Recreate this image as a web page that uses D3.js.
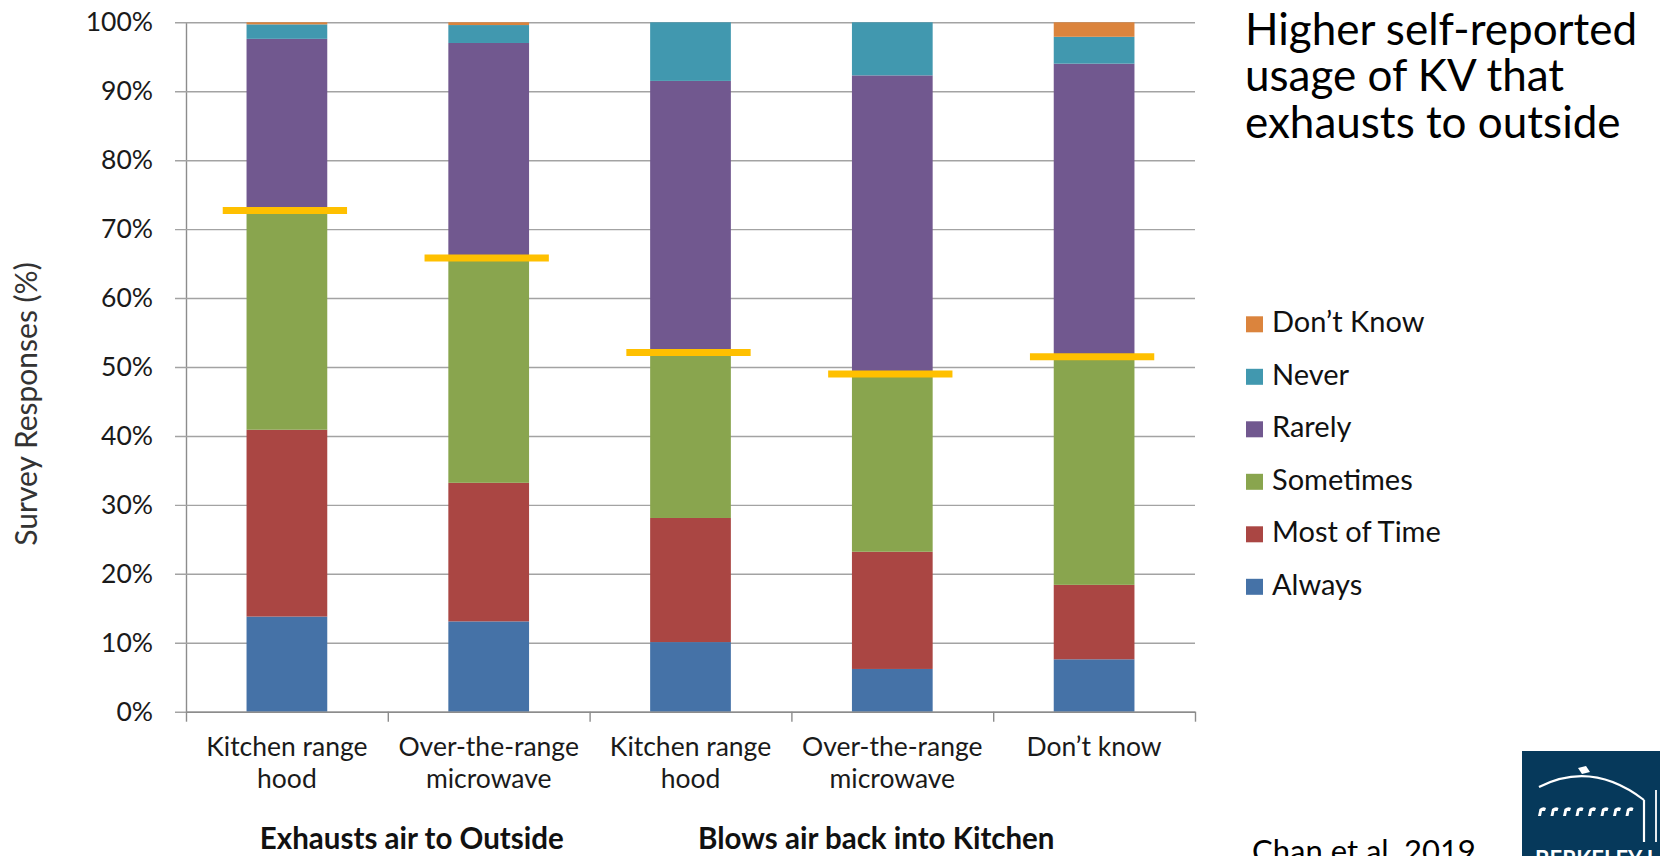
<!DOCTYPE html>
<html>
<head>
<meta charset="utf-8">
<script src="https://cdn.jsdelivr.net/npm/d3@7"></script>
<style>
  html, body { margin: 0; padding: 0; background: #fff; }
  svg { display: block; font-family: Lato, "Open Sans", sans-serif; }
</style>
</head>
<body>
<svg id="chart" width="1660" height="856"></svg>
<script>
// Kitchen ventilation usage by device type (share of survey responses, %)
const categoryLines = [
  ["Kitchen range", "hood"],
  ["Over-the-range", "microwave"],
  ["Kitchen range", "hood"],
  ["Over-the-range", "microwave"],
  ["Don\u2019t know"]
];
const responses = ["Always", "Most of Time", "Sometimes", "Rarely", "Never", "Don\u2019t Know"];
const always     = [13.8, 13.1, 10.1,  6.2,  7.6];
const mostOfTime = [27.1, 20.1, 18.0, 17.0, 10.8];
const sometimes  = [31.8, 32.6, 24.0, 25.8, 33.1];
const rarely     = [24.9, 31.2, 39.4, 43.3, 42.5];
const never      = [ 2.1,  2.6,  8.5,  7.7,  3.9];
const dontKnow   = [ 0.3,  0.4,  0.0,  0.0,  2.1];
const yTicks = [0, 10, 20, 30, 40, 50, 60, 70, 80, 90, 100];
const groupNames = ["Exhausts air to Outside", "Blows air back into Kitchen"];
const groupMembers = [[0, 1], [2, 3, 4]];
const headingLines = ["Higher self-reported", "usage of KV that", "exhausts to outside"];
const citation = "Chan et al. 2019";

const colors = {
  "Always": "#4572A7",
  "Most of Time": "#AA4643",
  "Sometimes": "#89A54E",
  "Rarely": "#71588F",
  "Never": "#4198AF",
  "Don\u2019t Know": "#DB843D"
};

// assemble rows for stacking
const seriesValues = [always, mostOfTime, sometimes, rarely, never, dontKnow];
const rows = categoryLines.map((c, i) => {
  const r = { idx: i };
  responses.forEach((k, j) => { r[k] = seriesValues[j][i]; });
  return r;
});

const svg = d3.select("#chart");
const plot = { left: 186, right: 1195, top: 22.3, bottom: 711.7 };

const x = d3.scaleBand()
  .domain(rows.map(d => d.idx))
  .range([plot.left, plot.right])
  .paddingInner(0.6)
  .paddingOuter(0.3);
const xEdge = d3.scaleLinear().domain([0, rows.length]).range([plot.left, plot.right]);
const y = d3.scaleLinear().domain([0, 100]).range([plot.bottom, plot.top]);

// gridlines + y tick labels
const yAxis = svg.append("g")
  .attr("transform", `translate(${plot.left},0)`)
  .call(d3.axisLeft(y)
    .tickValues(yTicks)
    .tickSizeInner(-(plot.right - plot.left))
    .tickSizeOuter(0)
    .tickPadding(33)
    .tickFormat(d => d + "%"));
yAxis.select(".domain").attr("stroke", "#8c8c8c").attr("stroke-width", 1.4);
yAxis.selectAll(".tick line")
  .attr("x1", -11)
  .attr("stroke", "#a3a3a3")
  .attr("stroke-width", 1.4);
yAxis.selectAll(".tick text")
  .attr("font-size", 26.5)
  .attr("fill", "#1a1a1a")
  .attr("font-family", "Lato, sans-serif");

// stacked bars
const stack = d3.stack().keys(responses);
const layers = stack(rows);
svg.append("g").selectAll("g")
  .data(layers)
  .join("g")
  .attr("fill", d => colors[d.key])
  .selectAll("rect")
  .data(d => d)
  .join("rect")
  .attr("x", d => x(d.data.idx))
  .attr("width", x.bandwidth())
  .attr("y", d => y(d[1]))
  .attr("height", d => Math.max(0, y(d[0]) - y(d[1])));

// x axis: category boundary ticks
const xAxis = svg.append("g")
  .attr("transform", `translate(0,${plot.bottom})`)
  .call(d3.axisBottom(xEdge)
    .tickValues(d3.range(rows.length + 1))
    .tickSize(10)
    .tickSizeOuter(0)
    .tickFormat(""));
xAxis.select(".domain").attr("stroke", "#8c8c8c").attr("stroke-width", 1.4);
xAxis.selectAll(".tick line").attr("stroke", "#8c8c8c").attr("stroke-width", 1.4);

// category labels (two lines)
const catLabels = svg.append("g")
  .attr("font-size", 26.5)
  .attr("fill", "#1a1a1a")
  .attr("text-anchor", "middle");
catLabels.selectAll("text")
  .data(categoryLines)
  .join("text")
  .attr("x", (d, i) => x(i) + x.bandwidth() / 2)
  .attr("y", 756)
  .selectAll("tspan")
  .data(d => d)
  .join("tspan")
  .attr("x", function () { return d3.select(this.parentNode).attr("x"); })
  .attr("dy", (d, i) => i === 0 ? 0 : 32)
  .text(d => d);

// "at least sometimes" markers
const usage = rows.map(r => ({ idx: r.idx, v: r["Always"] + r["Most of Time"] + r["Sometimes"] }));
svg.append("g").selectAll("line")
  .data(usage)
  .join("line")
  .attr("x1", d => x(d.idx) + x.bandwidth() / 2 - 2 - x.bandwidth() * 0.77)
  .attr("x2", d => x(d.idx) + x.bandwidth() / 2 - 2 + x.bandwidth() * 0.77)
  .attr("y1", d => y(d.v))
  .attr("y2", d => y(d.v))
  .attr("stroke", "#FFC000")
  .attr("stroke-width", 7);

// group captions
const groupOffsets = [24, -16];
svg.append("g")
  .attr("font-size", 29.5)
  .attr("font-weight", "bold")
  .attr("fill", "#111")
  .attr("text-anchor", "middle")
  .selectAll("text")
  .data(groupNames)
  .join("text")
  .attr("x", (d, i) => {
    const m = groupMembers[i];
    const a = x(m[0]) + x.bandwidth() / 2, b = x(m[m.length - 1]) + x.bandwidth() / 2;
    return (a + b) / 2 + groupOffsets[i];
  })
  .attr("y", 849)
  .text(d => d);

// y axis title
svg.append("text")
  .attr("transform", `translate(37,404) rotate(-90)`)
  .attr("text-anchor", "middle")
  .attr("font-size", 30)
  .attr("fill", "#333")
  .text("Survey Responses (%)");

// legend (top entry = top of stack)
const legend = svg.append("g").attr("transform", "translate(1246,0)");
const legendItems = responses.slice().reverse();
const li = legend.selectAll("g")
  .data(legendItems)
  .join("g")
  .attr("transform", (d, i) => `translate(0,${332.3 + i * 52.5})`);
li.append("rect")
  .attr("x", 0).attr("y", -16)
  .attr("width", 17).attr("height", 16)
  .attr("fill", d => colors[d]);
li.append("text")
  .attr("x", 26).attr("y", 0)
  .attr("font-size", 29)
  .attr("fill", "#111")
  .text(d => d);

// heading: one text block, three lines
svg.append("text")
  .attr("x", 1245)
  .attr("y", 44.5)
  .attr("font-size", 44)
  .attr("fill", "#000")
  .selectAll("tspan")
  .data(headingLines)
  .join("tspan")
  .attr("x", 1245)
  .attr("dy", (d, i) => i === 0 ? 0 : 46.7)
  .text(d => d);

// citation
svg.append("text")
  .attr("x", 1252)
  .attr("y", 862)
  .attr("font-size", 31)
  .attr("fill", "#000")
  .text(citation);

// lab logo
const logo = svg.append("g");
logo.append("rect")
  .attr("x", 1522).attr("y", 751)
  .attr("width", 150).attr("height", 120)
  .attr("fill", "#06395b");
logo.append("path")
  .attr("d", "M1539,787 Q1592,760 1644,800")
  .attr("fill", "none").attr("stroke", "#fff").attr("stroke-width", 2.2);
logo.append("path")
  .attr("d", "M1644,800 L1644,842")
  .attr("stroke", "#fff").attr("stroke-width", 2.2);
logo.append("path")
  .attr("d", "M1656,790 L1656,842")
  .attr("stroke", "#fff").attr("stroke-width", 1.8);
logo.append("path")
  .attr("d", "M1578,768 L1586,766 L1590,772 L1582,774 Z")
  .attr("fill", "#fff");
logo.selectAll("path.arch")
  .data(d3.range(8))
  .join("path")
  .attr("class", "arch")
  .attr("d", d => {
    const x0 = 1538 + d * 12.5;
    return `M${x0},816 L${x0 + 1.5},809 Q${x0 + 5},806 ${x0 + 8},808 L${x0 + 7},811 L${x0 + 4},811 L${x0 + 3},816 Z`;
  })
  .attr("fill", "#fff");
logo.append("text")
  .attr("x", 1535).attr("y", 867)
  .attr("font-size", 22)
  .attr("font-weight", "bold")
  .attr("fill", "#fff")
  .text("BERKELEY LAB");
</script>
</body>
</html>
